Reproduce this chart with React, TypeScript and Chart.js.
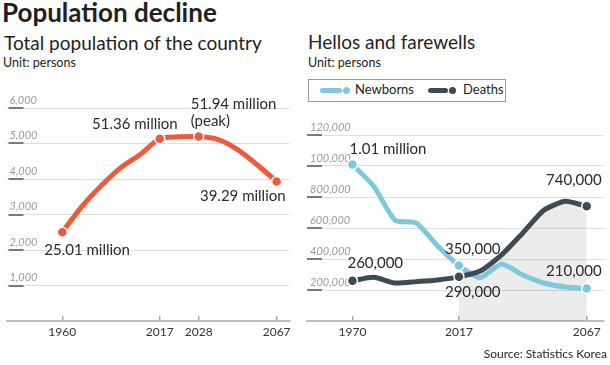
import React, { useEffect, useRef } from "react";
import { Chart, registerables } from "chart.js";

Chart.register(...registerables);

const FONT = "Lato, 'Noto Sans', sans-serif";

// ---------- Left chart: total population (unit: 10,000 persons) ----------
const popCategories = ["1960", "1970", "1980", "1990", "2000", "2017", "2020", "2028", "2040", "2050", "2060", "2067"];
const popShownTicks = ["1960", "2017", "2028", "2067"];
const popValues = [2501, 3224, 3810, 4320, 4690, 5136, 5188, 5194, 5110, 4830, 4400, 3929];
const popYTicks = [0, 1000, 2000, 3000, 4000, 5000, 6000];
const popYTickLabels = ["", "1,000", "2,000", "3,000", "4,000", "5,000", "6,000"];
const popMarked = ["1960", "2017", "2028", "2067"];
const popLabels = ["25.01 million", "51.36 million", "51.94 million\n(peak)", "39.29 million"];

// ---------- Right chart: newborns and deaths ----------
const vitalCategories = ["1970", "1980", "1990", "2000", "2010", "2017", "2020", "2030", "2040", "2050", "2060", "2067"];
const vitalShownTicks = ["1970", "2017", "2067"];
const newborns = [1010000, 870000, 650000, 632000, 484000, 358000, 280000, 368000, 297000, 245000, 219000, 210000];
const deaths = [260000, 282000, 245000, 254000, 265000, 285000, 322000, 426000, 568000, 716000, 772000, 740000];
const shadeFrom = "2017";
const vitalYTicks = [0, 200000, 400000, 600000, 800000, 1000000, 1200000];
const vitalYTickLabels = ["", "200,000", "400,000", "600,000", "800,000", "100,000", "120,000"];
const vitalMarked = ["1970", "2017", "2067"];
const newbornLabels = ["1.01 million", "350,000", "210,000"];
const deathLabels = ["260,000", "290,000", "740,000"];

const ORANGE = "#ee5a3c";
const BLUE = "#7fc8dc";
const DARK = "#3f4b53";

const pointLabelsPlugin = {
  id: "pointLabels",
  afterDatasetsDraw(chart: any, _args: any, opts: any) {
    const items = (opts && opts.items) || [];
    const ctx = chart.ctx;
    ctx.save();
    ctx.font = opts.font;
    ctx.fillStyle = opts.color;
    ctx.textBaseline = "alphabetic";
    for (const it of items) {
      const meta = chart.getDatasetMeta(it.dataset);
      const el = meta.data[it.index];
      if (!el) continue;
      ctx.textAlign = it.align;
      String(it.text)
        .split("\n")
        .forEach((ln: string, k: number) => ctx.fillText(ln, el.x + it.dx, el.y + it.dy + k * opts.lineHeight));
    }
    ctx.restore();
  },
};

const yTickMarksPlugin = {
  id: "yTickMarks",
  beforeDatasetsDraw(chart: any, _args: any, opts: any) {
    const scale = chart.scales.y;
    const ctx = chart.ctx;
    const left = chart.chartArea.left;
    ctx.save();
    ctx.strokeStyle = opts.color;
    ctx.lineWidth = opts.width;
    scale.ticks.forEach((t: any) => {
      if (t.value === 0) return;
      const y = Math.round(scale.getPixelForValue(t.value));
      ctx.beginPath();
      ctx.moveTo(left + opts.start, y);
      ctx.lineTo(left + opts.start + opts.length, y);
      ctx.stroke();
    });
    ctx.restore();
  },
};

function xyData(values: number[]) {
  return values.map((v, i) => ({ x: i, y: v }));
}

function makeXScale(categories: string[], shown: string[], min: number, max: number) {
  return {
    type: "linear" as const,
    min,
    max,
    afterBuildTicks: (scale: any) => {
      scale.ticks = shown.map((c) => ({ value: categories.indexOf(c) }));
    },
    afterFit: (scale: any) => {
      scale.height = 44;
    },
    ticks: {
      autoSkip: false,
      maxRotation: 0,
      padding: 9,
      color: "#333",
      font: { family: FONT, size: 12 },
      callback: (v: any) => categories[Number(v)] ?? "",
    },
    grid: {
      drawOnChartArea: false,
      drawTicks: true,
      tickLength: -5,
      color: "#aaaaaa",
      lineWidth: 1.5,
    },
    border: { display: true, color: "#bdbdbd", width: 2 },
  };
}

function makeYScale(ticksVals: number[], tickLabels: string[], max: number) {
  return {
    type: "linear" as const,
    min: 0,
    max,
    afterBuildTicks: (scale: any) => {
      scale.ticks = ticksVals.map((v) => ({ value: v }));
    },
    afterFit: (scale: any) => {
      scale.width = 0;
    },
    ticks: {
      mirror: true,
      padding: 3,
      labelOffset: -8,
      color: "#9a9a9a",
      font: { family: FONT, size: 11, style: "italic" as const },
      callback: (v: any) => {
        const i = ticksVals.indexOf(Number(v));
        return i >= 0 ? tickLabels[i] : "";
      },
    },
    grid: { color: "#dedede", lineWidth: 1, drawTicks: false },
    border: { display: false },
  };
}

function Txt(props: {
  x: number;
  baseline: number;
  size: number;
  weight?: number;
  align?: "left" | "right";
  color?: string;
  children: React.ReactNode;
}) {
  const { x, baseline, size, weight = 400, align = "left", color = "#231f20", children } = props;
  const top = baseline - 0.887 * size;
  const style: React.CSSProperties = {
    position: "absolute",
    top,
    fontSize: size,
    lineHeight: `${size}px`,
    fontWeight: weight,
    whiteSpace: "nowrap",
    color,
  };
  if (align === "left") style.left = x;
  else style.right = 610 - x;
  return <div style={style}>{children}</div>;
}

export default function App() {
  const leftRef = useRef<HTMLCanvasElement>(null);
  const rightRef = useRef<HTMLCanvasElement>(null);

  useEffect(() => {
    const popPlace = [
      { dx: -18, dy: 23, align: "left" },
      { dx: 18, dy: -10, align: "right" },
      { dx: -8, dy: -28, align: "left" },
      { dx: 9, dy: 19, align: "right" },
    ];
    const popItems = popMarked.map((c, k) => ({
      dataset: 0,
      index: popCategories.indexOf(c),
      text: popLabels[k],
      ...popPlace[k],
    }));

    const left = new Chart(leftRef.current as HTMLCanvasElement, {
      type: "line",
      data: {
        datasets: [
          {
            label: "Population",
            data: xyData(popValues),
            borderColor: ORANGE,
            borderWidth: 5,
            tension: 0.3,
            borderCapStyle: "round",
            borderJoinStyle: "round",
            pointRadius: (ctx: any) => (popMarked.includes(popCategories[ctx.dataIndex]) ? 5 : 0),
            pointBackgroundColor: ORANGE,
            pointBorderColor: "#ffffff",
            pointBorderWidth: 1.5,
          } as any,
        ],
      },
      options: {
        animation: false,
        responsive: false,
        events: [],
        layout: { padding: { top: 28, left: 1, right: 10, bottom: 0 } },
        scales: {
          x: makeXScale(popCategories, popShownTicks, -2.863, 11.653) as any,
          y: makeYScale(popYTicks, popYTickLabels, 6000) as any,
        },
        plugins: {
          legend: { display: false },
          tooltip: { enabled: false },
          pointLabels: { items: popItems, font: `15px ${FONT}`, color: "#2a2a2a", lineHeight: 17 },
          yTickMarks: { color: "#7a7a7a", width: 2, start: 2, length: 15 },
        } as any,
      },
      plugins: [pointLabelsPlugin, yTickMarksPlugin],
    });

    const shadeStart = vitalCategories.indexOf(shadeFrom);
    const nbPlace = [
      { dx: -3, dy: -10, align: "left" },
      { dx: -14, dy: -12, align: "left" },
      { dx: 15, dy: -12, align: "right" },
    ];
    const dPlace = [
      { dx: -5, dy: -13, align: "left" },
      { dx: -14, dy: 20, align: "left" },
      { dx: 15, dy: -21, align: "right" },
    ];
    const vitalItems = [
      ...vitalMarked.map((c, k) => ({ dataset: 1, index: vitalCategories.indexOf(c), text: newbornLabels[k], ...nbPlace[k] })),
      ...vitalMarked.map((c, k) => ({ dataset: 2, index: vitalCategories.indexOf(c), text: deathLabels[k], ...dPlace[k] })),
    ];
    const markRadius = (ctx: any) => (vitalMarked.includes(vitalCategories[ctx.dataIndex]) ? 5 : 0);

    const right = new Chart(rightRef.current as HTMLCanvasElement, {
      type: "line",
      data: {
        datasets: [
          {
            label: "shade",
            data: deaths.map((v, i) => ({ x: i, y: i >= shadeStart ? v : null })),
            borderWidth: 0,
            borderColor: "rgba(0,0,0,0)",
            backgroundColor: "rgba(0,0,0,0.075)",
            fill: "origin",
            tension: 0.2,
            pointRadius: 0,
            order: 3,
          } as any,
          {
            label: "Newborns",
            data: xyData(newborns),
            borderColor: BLUE,
            borderWidth: 5,
            tension: 0.2,
            borderCapStyle: "round",
            borderJoinStyle: "round",
            pointRadius: markRadius,
            pointBackgroundColor: BLUE,
            pointBorderColor: "#ffffff",
            pointBorderWidth: 1.5,
            order: 2,
          } as any,
          {
            label: "Deaths",
            data: xyData(deaths),
            borderColor: DARK,
            borderWidth: 5,
            tension: 0.2,
            borderCapStyle: "round",
            borderJoinStyle: "round",
            pointRadius: markRadius,
            pointBackgroundColor: DARK,
            pointBorderColor: "#ffffff",
            pointBorderWidth: 1.5,
            order: 1,
          } as any,
        ],
      },
      options: {
        animation: false,
        responsive: false,
        events: [],
        layout: { padding: { top: 30, left: 7, right: 3, bottom: 0 } },
        scales: {
          x: makeXScale(vitalCategories, vitalShownTicks, -2.135, 11.789) as any,
          y: makeYScale(vitalYTicks, vitalYTickLabels, 1200000) as any,
        },
        plugins: {
          legend: { display: false },
          tooltip: { enabled: false },
          pointLabels: { items: vitalItems, font: `15px ${FONT}`, color: "#2a2a2a", lineHeight: 17 },
          yTickMarks: { color: "#7a7a7a", width: 2, start: 0, length: 15 },
        } as any,
      },
      plugins: [pointLabelsPlugin, yTickMarksPlugin],
    });

    return () => {
      left.destroy();
      right.destroy();
    };
  }, []);

  const legendLine = (leftPx: number, width: number, color: string) => (
    <>
      <div
        style={{ position: "absolute", left: leftPx, top: 8, width, height: 5, borderRadius: 2.5, background: color }}
      />
      <div
        style={{
          position: "absolute",
          left: leftPx + width + 1,
          top: 7,
          width: 7,
          height: 7,
          borderRadius: "50%",
          background: color,
        }}
      />
    </>
  );

  return (
    <div
      style={{
        position: "fixed",
        left: 0,
        top: 0,
        width: 610,
        height: 365,
        background: "#ffffff",
        fontFamily: FONT,
        overflow: "hidden",
      }}
    >
      <Txt x={2} baseline={22} size={26} weight={700}>
        Population decline
      </Txt>
      <Txt x={4} baseline={50} size={19}>
        Total population of the country
      </Txt>
      <Txt x={3} baseline={68} size={12.5}>
        Unit: persons
      </Txt>
      <Txt x={308} baseline={49} size={19}>
        Hellos and farewells
      </Txt>
      <Txt x={308} baseline={68} size={12.5}>
        Unit: persons
      </Txt>

      <div
        style={{
          position: "absolute",
          left: 308,
          top: 79,
          width: 196,
          height: 21,
          border: "1px solid #9a9a9a",
        }}
      >
        {legendLine(11, 22, BLUE)}
        <div style={{ position: "absolute", left: 46, top: 15 - 0.887 * 13, fontSize: 13, lineHeight: "13px", color: "#231f20" }}>
          Newborns
        </div>
        {legendLine(119, 20, DARK)}
        <div style={{ position: "absolute", left: 154, top: 15 - 0.887 * 13, fontSize: 13, lineHeight: "13px", color: "#231f20" }}>
          Deaths
        </div>
      </div>

      <canvas
        ref={leftRef}
        width={300}
        height={285}
        style={{ position: "absolute", left: 0, top: 80, width: 300, height: 285 }}
      />
      <canvas
        ref={rightRef}
        width={310}
        height={260}
        style={{ position: "absolute", left: 300, top: 105, width: 310, height: 260 }}
      />

      <Txt x={607} baseline={359} size={12} align="right">
        Source: Statistics Korea
      </Txt>
    </div>
  );
}
